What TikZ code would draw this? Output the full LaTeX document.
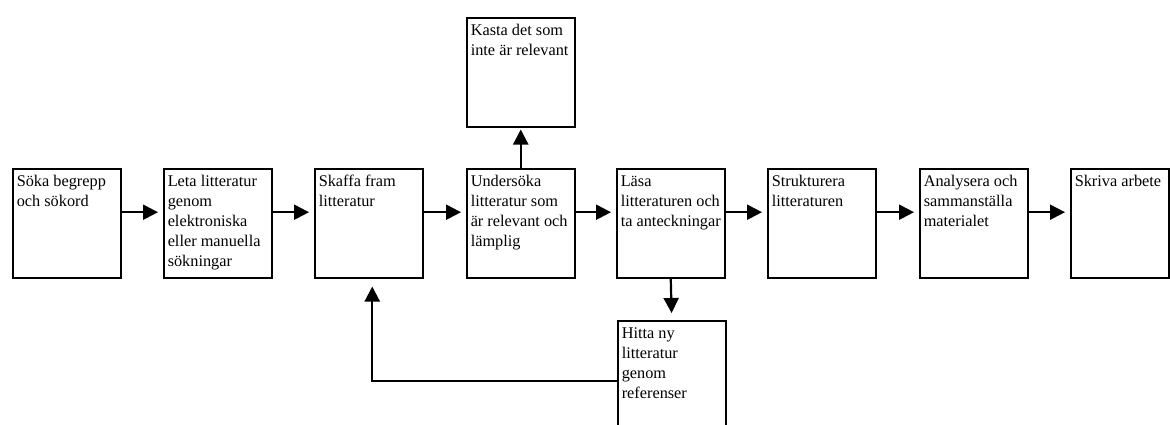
\documentclass[tikz,border=0pt]{standalone}
\usepackage{fontspec}
\setmainfont{Liberation Serif}
\usetikzlibrary{arrows.meta,calc}
\tikzset{
  box/.style={draw, line width=1.5pt, rectangle, anchor=north west, inner sep=4pt,
    font=\fontsize{16.3}{20}\selectfont, align=left},
  arr/.style={line width=2.2pt, -{Triangle[length=15pt,width=15pt]}},
}
\newcommand{\bx}[2][100pt]{\parbox[c][101pt][t]{#1}{\raggedright\strut #2}}
\begin{document}
\begin{tikzpicture}[x=1pt,y=-1pt]
\path[use as bounding box, clip] (0,0) rectangle (1170,424);
\node[box] (b1) at (12,168) {\bx{Söka begrepp\\och sökord}};
\node[box] (b2) at (163,168) {\bx{Leta litteratur\\genom\\elektroniska\\eller manuella\\sökningar}};
\node[box] (b3) at (314,168) {\bx{Skaffa fram\\litteratur}};
\node[box] (b4) at (466,168) {\bx{Undersöka\\litteratur som\\är relevant och\\lämplig}};
\node[box] (b5) at (616,168) {\bx{Läsa\\litteraturen och\\ta anteckningar}};
\node[box] (b6) at (767,168) {\bx{Strukturera\\litteraturen}};
\node[box] (b7) at (919,168) {\bx{Analysera och\\sammanställa\\materialet}};
\node[box] (b8) at (1070,168) {\bx[90pt]{Skriva arbete}};
\node[box] (k) at (466,17) {\bx{Kasta det som\\inte är relevant}};
\node[box] (h) at (617,320) {\bx{Hitta ny\\litteratur\\genom\\referenser}};
\foreach \a/\b in {b1/b2,b2/b3,b3/b4,b4/b5,b5/b6,b6/b7,b7/b8}{
  \draw[arr, shorten >=5pt] ($(\a.north east)!0.4!(\a.south east)$) -- ($(\b.north west)!0.4!(\b.south west)$);
}
\draw[arr, shorten >=2pt] (b4.north) -- (k.south);
\draw[arr, shorten >=7pt] (b5.south) -- (h.north);
\draw[arr, shorten >=8pt] ($(h.north west)!0.55!(h.south west)$) -| ($(b3.south)+(3.5,0)$);
\end{tikzpicture}
\end{document}
